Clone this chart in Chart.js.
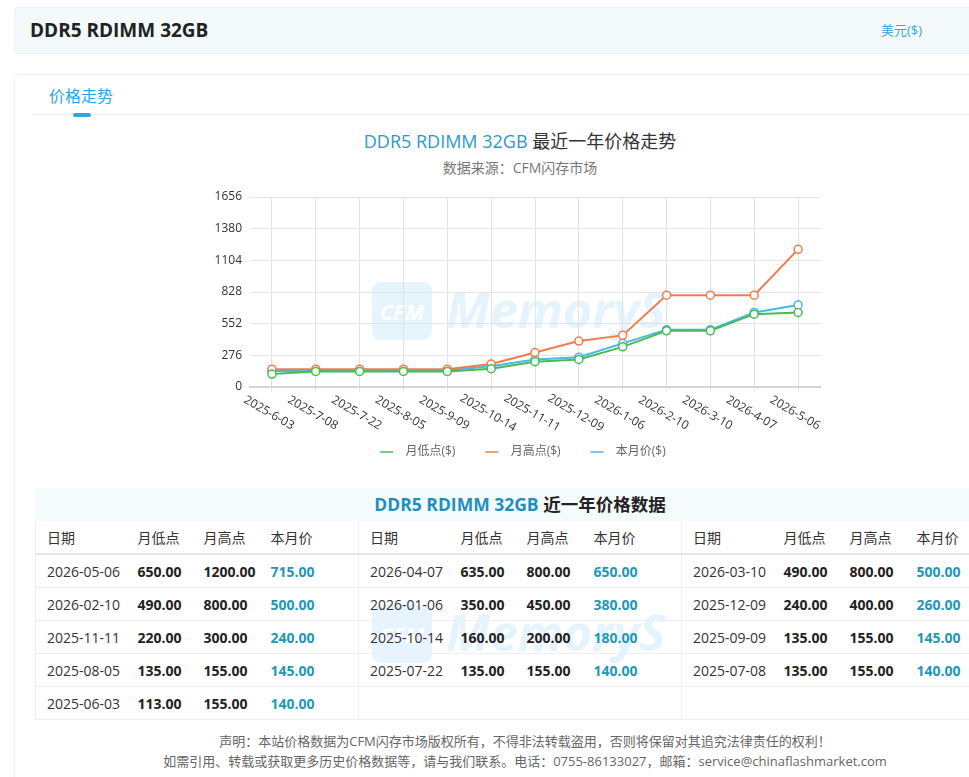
<!DOCTYPE html>
<html>
<head>
<meta charset="utf-8">
<script src="https://cdn.jsdelivr.net/npm/chart.js@4.4.1/dist/chart.umd.min.js"></script>
<style>
  html, body { margin: 0; padding: 0; background: #fff; }
  body { width: 969px; height: 777px; overflow: hidden; position: relative;
         font-family: "Open Sans", "Noto Sans CJK SC", sans-serif; color: #333; }
  .head { position: absolute; left: 14px; top: 7px; width: 1040px; height: 45px;
          background: #f4f9fc; border: 1px solid #e9f1f6; border-radius: 4px; }
  .head h1 { position: absolute; left: 15px; top: 0; margin: 0; line-height: 45px;
             font-size: 19px; font-weight: bold; color: #222; }
  .head .unit { position: absolute; left: 866px; top: 0; line-height: 45px; font-size: 13px; color: #37a6df; }
  .box { position: absolute; left: 14px; top: 74px; width: 1030px; height: 760px;
         border: 1px solid #eef0f2; border-radius: 4px; }
  .tab { position: absolute; left: 49px; top: 84px; font-size: 16px; color: #2aa6ea; line-height: 24px; }
  .tabline { position: absolute; left: 31px; top: 114px; width: 1020px; height: 1px; background: #eef2f5; }
  .tabbar { position: absolute; left: 73px; top: 113px; width: 18px; height: 4px; border-radius: 2px; background: #2aa6ea; }
  .ctitle { position: absolute; left: 0; width: 1040px; top: 128px; text-align: center;
            font-size: 18px; line-height: 26px; color: #333; }
  .ctitle span { color: #2a9bc4; }
  .csub { position: absolute; left: 0; width: 1040px; top: 158px; text-align: center;
          font-size: 14px; line-height: 20px; color: #777; }
  .wm { position: absolute; pointer-events: none; }
  .wm .sq { position: absolute; left: 0; top: 0; width: 60px; height: 58px; border-radius: 9px;
            background: #e6f4fd; color: #fff; font-size: 22px; font-weight: bold; font-style: italic;
            text-align: center; line-height: 58px; }
  .wm .txt { position: absolute; left: 74px; top: -8px; font-size: 50px; font-weight: bold;
             font-style: italic; color: #e4f3fc; line-height: 70px; white-space: nowrap; }
  #chartBox { position: absolute; left: 150px; top: 180px; width: 746px; height: 300px; }
  .tbl { position: absolute; left: 35px; top: 488px; width: 969px; }
  .tbl .tt { height: 33px; line-height: 33px; background: #f5fafd; text-align: center;
             font-size: 17.5px; font-weight: bold; color: #222; width: 970px; }
  .tbl .tt span { color: #1f8fbf; }
  table { border-collapse: collapse; table-layout: fixed; width: 969px; border-left: 1px solid #eee; }
  td, th { padding: 0 0 0 11px; font-size: 14px; text-align: left; white-space: nowrap; height: 32px;
           border-bottom: 1px solid #eee; }
  th { font-weight: normal; color: #333; height: 32px; border-bottom: 2px solid #e6e6e6; }
  td.d { color: #333; }
  td.l, td.h { font-weight: bold; color: #222; }
  td.a { font-weight: bold; color: #1f97b8; }
  .g0 { border-left: 1px solid #eee; }
  .foot { position: absolute; left: 0; width: 1050px; top: 731px; text-align: center;
          font-size: 13px; line-height: 20px; color: #666; }
</style>
</head>
<body>
<div class="head"><h1>DDR5 RDIMM 32GB</h1><div class="unit">美元($)</div></div>
<div class="box"></div>
<div class="tab">价格走势</div>
<div class="tabline"></div>
<div class="tabbar"></div>
<div class="ctitle"><span>DDR5 RDIMM 32GB</span> 最近一年价格走势</div>
<div class="csub">数据来源：CFM闪存市场</div>

<div class="wm" style="left:372px;top:282px"><div class="sq">CFM</div><div class="txt">MemoryS</div></div>
<div class="wm" style="left:372px;top:605px"><div class="sq">CFM</div><div class="txt">MemoryS</div></div>

<div id="chartBox"><canvas id="priceChart" width="746" height="300"></canvas></div>

<div class="tbl">
  <div class="tt"><span>DDR5 RDIMM 32GB</span> 近一年价格数据</div>
  <table id="priceTable"></table>
</div>

<div class="foot">声明：本站价格数据为CFM闪存市场版权所有，不得非法转载盗用，否则将保留对其追究法律责任的权利！<br>如需引用、转载或获取更多历史价格数据等，请与我们联系。电话：0755-86133027，邮箱：service@chinaflashmarket.com</div>

<script>
// chart data, oldest first
const dates = ["2025-6-03", "2025-7-08", "2025-7-22", "2025-8-05", "2025-9-09", "2025-10-14",
  "2025-11-11", "2025-12-09", "2026-1-06", "2026-2-10", "2026-3-10", "2026-4-07", "2026-5-06"];
const lowPrices = [113, 135, 135, 135, 135, 160, 220, 240, 350, 490, 490, 635, 650];
const highPrices = [155, 155, 155, 155, 155, 200, 300, 400, 450, 800, 800, 800, 1200];
const avgPrices = [140, 140, 140, 145, 145, 180, 240, 260, 380, 500, 500, 650, 715];
const seriesNames = ["月低点($)", "月高点($)", "本月价($)"];
const yTicks = [0, 276, 552, 828, 1104, 1380, 1656];
const tableHeads = ["日期", "月低点", "月高点", "本月价"];

const colors = ["#45bd52", "#ef7d4c", "#4ab6ee"];

// rotated x labels, centred under each tick
const xLabels = {
  id: "xLabels",
  afterDraw(chart) {
    const xs = chart.scales.x;
    const ctx = chart.ctx;
    ctx.save();
    ctx.font = '12px "Open Sans"';
    ctx.fillStyle = "#333";
    ctx.textAlign = "center";
    ctx.textBaseline = "middle";
    xs.ticks.forEach((t, i) => {
      ctx.save();
      ctx.translate(xs.getPixelForTick(i) - 3, xs.top + 26);
      ctx.rotate(Math.PI / 6);
      ctx.fillText(xs.getLabelForValue(t.value), 0, 0);
      ctx.restore();
    });
    ctx.restore();
  }
};

function makeSet(i, data) {
  return {
    label: seriesNames[i],
    data: data,
    borderColor: colors[i],
    backgroundColor: colors[i],
    borderWidth: 2,
    tension: 0,
    pointRadius: 4,
    pointHoverRadius: 4,
    pointBorderWidth: 1.5,
    pointBackgroundColor: "#fff",
    pointBorderColor: colors[i]
  };
}

new Chart(document.getElementById("priceChart").getContext("2d"), {
  type: "line",
  data: {
    labels: dates,
    datasets: [makeSet(0, lowPrices), makeSet(1, highPrices), makeSet(2, avgPrices)]
  },
  options: {
    responsive: false,
    animation: false,
    layout: { padding: { top: 17, right: 0, bottom: 12, left: 0 } },
    plugins: {
      legend: {
        position: "bottom",
        labels: {
          usePointStyle: true,
          pointStyle: "line",
          pointStyleWidth: 13,
          padding: 30,
          color: "#666",
          font: { size: 12, family: '"Open Sans", "Noto Sans CJK SC"' },
          generateLabels(chart) {
            return Chart.defaults.plugins.legend.labels.generateLabels(chart)
              .map(l => Object.assign(l, { text: "  " + l.text }));
          }
        }
      },
      tooltip: { enabled: false }
    },
    scales: {
      x: {
        offset: true,
        ticks: { display: false },
        grid: { color: "#e3e3e3", offset: false, drawTicks: true, tickLength: 5 },
        border: { color: "#d4d4d4", width: 2 },
        afterFit(s) { s.height = 29; }
      },
      y: {
        min: 0,
        max: 1656,
        afterBuildTicks(s) { s.ticks = yTicks.map(v => ({ value: v })); },
        ticks: { padding: 8, color: "#333", font: { size: 12, family: '"Open Sans"' },
                 callback: v => String(v) },
        grid: { color: "#e3e3e3", drawTicks: false },
        border: { display: false },
        afterFit(s) { s.width = 100; }
      },
      // empty right-hand spacer so the legend centres like the original
      yRight: {
        position: "right",
        grid: { display: false },
        ticks: { display: false },
        border: { display: false },
        afterFit(s) { s.width = 76; }
      }
    }
  },
  plugins: [xLabels]
});

// table: newest first, three groups per row
const fmt = v => v.toFixed(2);
const fullDate = d => { const p = d.split("-"); return p[0] + "-" + p[1].padStart(2, "0") + "-" + p[2]; };
const rows = dates.map((d, i) => [fullDate(d), lowPrices[i], highPrices[i], avgPrices[i]]).reverse();
const tbl = document.getElementById("priceTable");
let html = "<colgroup>";
for (let g = 0; g < 3; g++) html += '<col style="width:91px"><col style="width:66px"><col style="width:67px"><col style="width:99px">';
html += "</colgroup><tr>";
for (let g = 0; g < 3; g++) tableHeads.forEach((h, k) => { html += '<th' + (k === 0 && g ? ' class="g0"' : "") + ">" + h + "</th>"; });
html += "</tr>";
for (let r = 0; r < rows.length; r += 3) {
  html += "<tr>";
  for (let g = 0; g < 3; g++) {
    const row = rows[r + g];
    const sep = g ? " g0" : "";
    if (row) {
      html += '<td class="d' + sep + '">' + row[0] + '</td><td class="l">' + fmt(row[1]) +
        '</td><td class="h">' + fmt(row[2]) + '</td><td class="a">' + fmt(row[3]) + "</td>";
    } else {
      html += '<td class="d' + sep + '"></td><td></td><td></td><td></td>';
    }
  }
  html += "</tr>";
}
tbl.innerHTML = html;
</script>
</body>
</html>
